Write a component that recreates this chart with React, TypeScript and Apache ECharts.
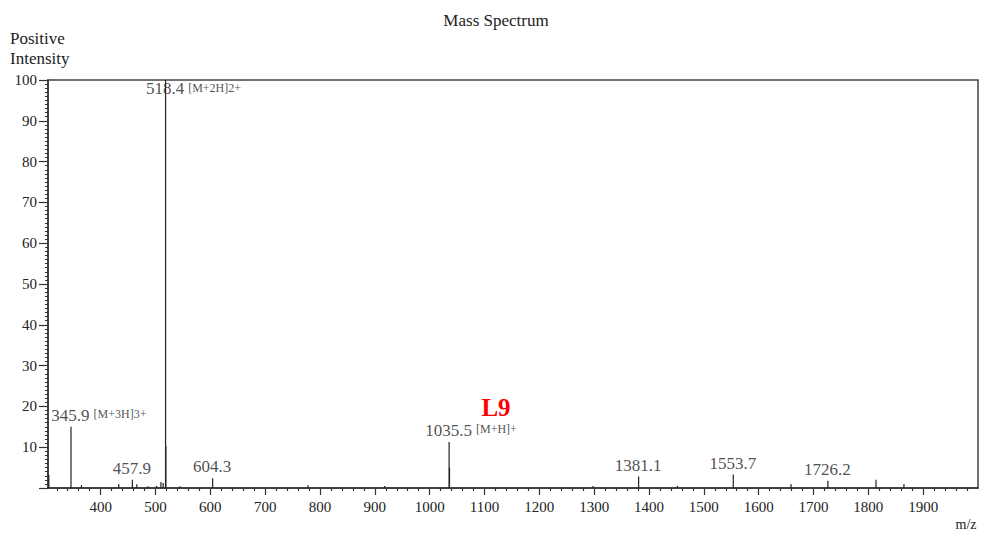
import React, { useEffect, useRef } from "react";
import * as echarts from "echarts";

// ---- data ----
const peakMz = [305.5, 345.9, 365, 433, 457.9, 466, 486, 502, 510, 514, 518.4, 518.9, 545, 604.3, 778, 918, 1035.5, 1036.2, 1298, 1381.1, 1452, 1553.7, 1659, 1726.2, 1814, 1865];
const peakIntensity = [3.2, 15, 0.7, 1, 2, 0.9, 0.4, 0.5, 1.5, 1.2, 100, 10.3, 0.4, 2.4, 0.7, 0.5, 11.3, 5, 0.5, 2.8, 0.5, 3.3, 1, 1.8, 2, 1];

const labelMz = [345.9, 457.9, 518.4, 604.3, 1035.5, 1381.1, 1553.7, 1726.2];
const labelIntensity = [15, 2, 100, 2.4, 11.3, 2.8, 3.3, 1.8];
const labelText = ["345.9", "457.9", "518.4", "604.3", "1035.5", "1381.1", "1553.7", "1726.2"];
const labelNotes = ["[M+3H]3+", "", "[M+2H]2+", "", "[M+H]+", "", "", ""];

const xMajorTicks = [400, 500, 600, 700, 800, 900, 1000, 1100, 1200, 1300, 1400, 1500, 1600, 1700, 1800, 1900];
const xMin = 304;
const xMax = 2000;

const FONT = '"Liberation Serif", "DejaVu Serif", serif';
const TEXT = "#222";

function measure(text: string, size: number) {
  const c = document.createElement("canvas");
  const ctx = c.getContext("2d");
  if (!ctx) return text.length * size * 0.5;
  ctx.font = `${size}px ${FONT}`;
  return ctx.measureText(text).width;
}

export default function App() {
  const ref = useRef<HTMLDivElement>(null);
  useEffect(() => {
    document.body.style.margin = "0";
    if (!ref.current) return;
    const chart = echarts.init(ref.current, undefined, { renderer: "svg" });

    const minorTicks: number[] = [];
    for (let v = 320; v < xMax; v += 20) if (v % 100 !== 0) minorTicks.push(v);

    const numSize = 17;
    const noteSize = 12;
    const numData = labelMz.map((mz, i) => {
      const dy = labelIntensity[i] > 90 ? 9 : -11;
      return {
        value: [mz, labelIntensity[i]],
        label: { position: [0, dy], align: "center", verticalAlign: "middle" },
      };
    });
    const noteData: any[] = [];
    labelMz.forEach((mz, i) => {
      if (!labelNotes[i]) return;
      const dy = labelIntensity[i] > 90 ? 8 : -12;
      const w = measure(labelText[i], numSize);
      noteData.push({
        value: [mz, labelIntensity[i]],
        note: labelNotes[i],
        label: { position: [w / 2 + 4, dy], align: "left", verticalAlign: "middle" },
      });
    });

    chart.setOption({
      animation: false,
      grid: { left: 48, right: 3, top: 80, bottom: 45, show: true, borderColor: "#444", borderWidth: 1.5 },
      xAxis: [
        {
          type: "value",
          min: xMin,
          max: xMax,
          axisLine: { show: true, lineStyle: { color: "#333", width: 1.5 } },
          axisTick: { show: true, customValues: xMajorTicks, length: 7, lineStyle: { color: "#333", width: 1.2 } },
          axisLabel: {
            customValues: xMajorTicks,
            fontSize: 15,
            fontFamily: FONT,
            color: TEXT,
            margin: 11,
            formatter: (v: number) => String(v),
          },
          splitLine: { show: false },
        },
        {
          type: "value",
          min: xMin,
          max: xMax,
          position: "bottom",
          axisLine: { show: false },
          axisTick: { show: true, customValues: minorTicks, length: 3, lineStyle: { color: "#333", width: 1.2 } },
          axisLabel: { show: false },
          splitLine: { show: false },
        },
      ],
      yAxis: {
        type: "value",
        min: 0,
        max: 100,
        interval: 10,
        axisLine: { show: true, lineStyle: { color: "#333", width: 1.5 } },
        axisTick: { show: true, length: 9, lineStyle: { color: "#333", width: 1.2 } },
        minorTick: { show: true, splitNumber: 10, length: 3, lineStyle: { color: "#333", width: 1 } },
        axisLabel: {
          fontSize: 15,
          fontFamily: FONT,
          color: TEXT,
          margin: 11,
          formatter: (v: number) => (v === 0 ? "" : String(v)),
        },
        splitLine: { show: false },
      },
      series: [
        {
          type: "custom",
          xAxisIndex: 0,
          yAxisIndex: 0,
          clip: true,
          encode: { x: 0, y: 1 },
          data: peakMz.map((mz, i) => [mz, peakIntensity[i]]),
          renderItem: (params: any, api: any) => {
            const x = api.value(0);
            const y = api.value(1);
            const top = api.coord([x, y]);
            const base = api.coord([x, 0]);
            return {
              type: "line",
              shape: { x1: top[0], y1: top[1], x2: base[0], y2: base[1] },
              style: { stroke: "#222", lineWidth: 1.2 },
            };
          },
        },
        {
          type: "scatter",
          xAxisIndex: 0,
          symbolSize: 1,
          itemStyle: { color: "rgba(0,0,0,0)" },
          silent: true,
          data: numData,
          label: {
            show: true,
            fontSize: numSize,
            fontFamily: FONT,
            color: TEXT,
            formatter: (p: any) => labelText[p.dataIndex],
          },
        },
        {
          type: "scatter",
          xAxisIndex: 0,
          symbolSize: 1,
          itemStyle: { color: "rgba(0,0,0,0)" },
          silent: true,
          data: noteData,
          label: {
            show: true,
            fontSize: noteSize,
            fontFamily: FONT,
            color: TEXT,
            formatter: (p: any) => p.data.note,
          },
        },
      ],
      graphic: [
        {
          type: "text",
          x: 496,
          y: 20,
          style: { text: "Mass Spectrum", font: `17px ${FONT}`, fill: TEXT, textAlign: "center", textVerticalAlign: "middle" },
        },
        {
          type: "text",
          x: 10,
          y: 28,
          style: { text: "Positive\nIntensity", font: `17px ${FONT}`, lineHeight: 20, fill: TEXT, textAlign: "left", textVerticalAlign: "top" },
        },
        {
          type: "text",
          x: 966,
          y: 524,
          style: { text: "m/z", font: `14px ${FONT}`, fill: TEXT, textAlign: "center", textVerticalAlign: "middle" },
        },
        {
          type: "text",
          x: 496,
          y: 407,
          style: { text: "L9", font: `bold 25px ${FONT}`, fill: "#ff0000", textAlign: "center", textVerticalAlign: "middle" },
        },
      ],
    });
    return () => chart.dispose();
  }, []);
  return <div ref={ref} style={{ width: 981, height: 533 }} />;
}
